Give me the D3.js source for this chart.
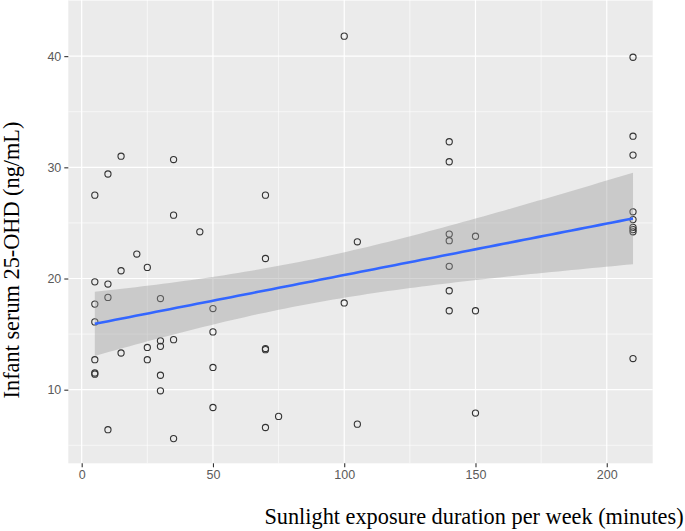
<!DOCTYPE html>
<html>
<head>
<meta charset="utf-8">
<script src="https://cdn.jsdelivr.net/npm/d3@7"></script>
<style>
  body { margin: 0; background: #fff; }
  svg { display: block; }
</style>
</head>
<body>
<svg id="chart"></svg>
<script>
const width = 685;
const height = 531;

// sunlight minutes per week, one entry per infant
const sunMinutes = [
  5, 5, 5, 5, 5, 5, 5,
  10, 10, 10, 10,
  15, 15, 15,
  21,
  25, 25, 25,
  30, 30, 30, 30, 30,
  35, 35, 35, 35,
  45,
  50, 50, 50, 50,
  70, 70, 70, 70, 70,
  75,
  100, 100,
  105, 105,
  140, 140, 140, 140, 140, 140, 140,
  150, 150, 150,
  210, 210, 210, 210, 210, 210, 210, 210, 210
];
// infant serum 25-OHD (ng/mL)
const serum = [
  27.5, 19.7, 17.7, 16.1, 12.7, 11.5, 11.4,
  29.4, 19.5, 18.3, 6.4,
  31.0, 20.7, 13.3,
  22.2,
  21.0, 13.8, 12.7,
  18.2, 14.4, 13.9, 11.3, 9.9,
  30.7, 25.7, 14.5, 5.6,
  24.2,
  17.3, 15.2, 12.0, 8.4,
  27.5, 21.8, 13.7, 13.6, 6.6,
  7.6,
  41.8, 17.8,
  23.3, 6.9,
  32.3, 30.5, 24.0, 23.4, 21.1, 18.9, 17.1,
  23.8, 17.1, 7.9,
  39.9, 32.8, 31.1, 26.0, 25.3, 24.6, 24.4, 24.2, 12.8
];

const xTicks = [0, 50, 100, 150, 200];
const xMinor = [25, 75, 125, 175];
const yTicks = [10, 20, 30, 40];
const yMinor = [5, 15, 25, 35, 45];

const panel = {left: 68.3, right: 652.7, top: 0, bottom: 463.3};

const x = d3.scaleLinear().domain([-5.1, 217.5]).range([panel.left, panel.right]);
const y = d3.scaleLinear().domain([3.38, 45.05]).range([panel.bottom, panel.top]);

// linear fit with 95% confidence band, as geom_smooth(method = "lm")
const n = sunMinutes.length;
const mx = d3.mean(sunMinutes);
const my = d3.mean(serum);
let sxx = 0, sxy = 0;
sunMinutes.forEach((v, i) => { sxx += (v - mx) ** 2; sxy += (v - mx) * (serum[i] - my); });
const slope = sxy / sxx;
const intercept = my - slope * mx;
let sse = 0;
sunMinutes.forEach((v, i) => { sse += (serum[i] - intercept - slope * v) ** 2; });
const s = Math.sqrt(sse / (n - 2));
const tCrit = 2.001;
const [xMin, xMax] = d3.extent(sunMinutes);
const fit = d3.range(80).map(k => {
  const xv = xMin + (xMax - xMin) * k / 79;
  const yv = intercept + slope * xv;
  const se = s * Math.sqrt(1 / n + (xv - mx) ** 2 / sxx);
  return {x: xv, y: yv, lo: yv - tCrit * se, hi: yv + tCrit * se};
});

const svg = d3.select("#chart").attr("width", width).attr("height", height);

svg.append("rect")
  .attr("x", panel.left).attr("y", panel.top)
  .attr("width", panel.right - panel.left).attr("height", panel.bottom - panel.top)
  .attr("fill", "#EBEBEB");

const grid = svg.append("g");
grid.selectAll(".vminor").data(xMinor).join("line")
  .attr("x1", d => x(d)).attr("x2", d => x(d))
  .attr("y1", panel.top).attr("y2", panel.bottom)
  .attr("stroke", "#fff").attr("stroke-width", 0.6);
grid.selectAll(".hminor").data(yMinor).join("line")
  .attr("y1", d => y(d)).attr("y2", d => y(d))
  .attr("x1", panel.left).attr("x2", panel.right)
  .attr("stroke", "#fff").attr("stroke-width", 0.6);
grid.selectAll(".vmajor").data(xTicks).join("line")
  .attr("x1", d => x(d)).attr("x2", d => x(d))
  .attr("y1", panel.top).attr("y2", panel.bottom)
  .attr("stroke", "#fff").attr("stroke-width", 1.2);
grid.selectAll(".hmajor").data(yTicks).join("line")
  .attr("y1", d => y(d)).attr("y2", d => y(d))
  .attr("x1", panel.left).attr("x2", panel.right)
  .attr("stroke", "#fff").attr("stroke-width", 1.2);

// points
svg.append("g").selectAll("circle")
  .data(sunMinutes.map((v, i) => [v, serum[i]]))
  .join("circle")
  .attr("cx", d => x(d[0])).attr("cy", d => y(d[1]))
  .attr("r", 3.1)
  .attr("fill", "none").attr("stroke", "#333").attr("stroke-width", 1.1);

// ribbon + fit line
svg.append("path").datum(fit)
  .attr("d", d3.area().x(d => x(d.x)).y0(d => y(d.lo)).y1(d => y(d.hi)))
  .attr("fill", "#999").attr("fill-opacity", 0.4);
svg.append("path").datum(fit)
  .attr("d", d3.line().x(d => x(d.x)).y(d => y(d.y)))
  .attr("fill", "none").attr("stroke", "#3366FF").attr("stroke-width", 2.6);

// axes
const xAxis = svg.append("g")
  .attr("transform", `translate(0,${panel.bottom})`)
  .call(d3.axisBottom(x).tickValues(xTicks).tickSize(4).tickPadding(3));
const yAxis = svg.append("g")
  .attr("transform", `translate(${panel.left},0)`)
  .call(d3.axisLeft(y).tickValues(yTicks).tickSize(4).tickPadding(3));
[xAxis, yAxis].forEach(a => {
  a.select(".domain").remove();
  a.selectAll(".tick line").attr("stroke", "#333").attr("stroke-width", 1.1);
  a.selectAll(".tick text")
    .attr("fill", "#5a5a5a")
    .style("font-family", "'Liberation Sans', Arial, sans-serif")
    .style("font-size", "12.5px");
});

svg.append("text")
  .attr("x", 474).attr("y", 524)
  .attr("text-anchor", "middle")
  .style("font-family", "'Liberation Serif', 'Times New Roman', serif")
  .style("font-size", "22.3px")
  .text("Sunlight exposure duration per week (minutes)");

svg.append("text")
  .attr("transform", "translate(19,260) rotate(-90)")
  .attr("text-anchor", "middle")
  .style("font-family", "'Liberation Serif', 'Times New Roman', serif")
  .style("font-size", "22.3px")
  .text("Infant serum 25-OHD (ng/mL)");
</script>
</body>
</html>
